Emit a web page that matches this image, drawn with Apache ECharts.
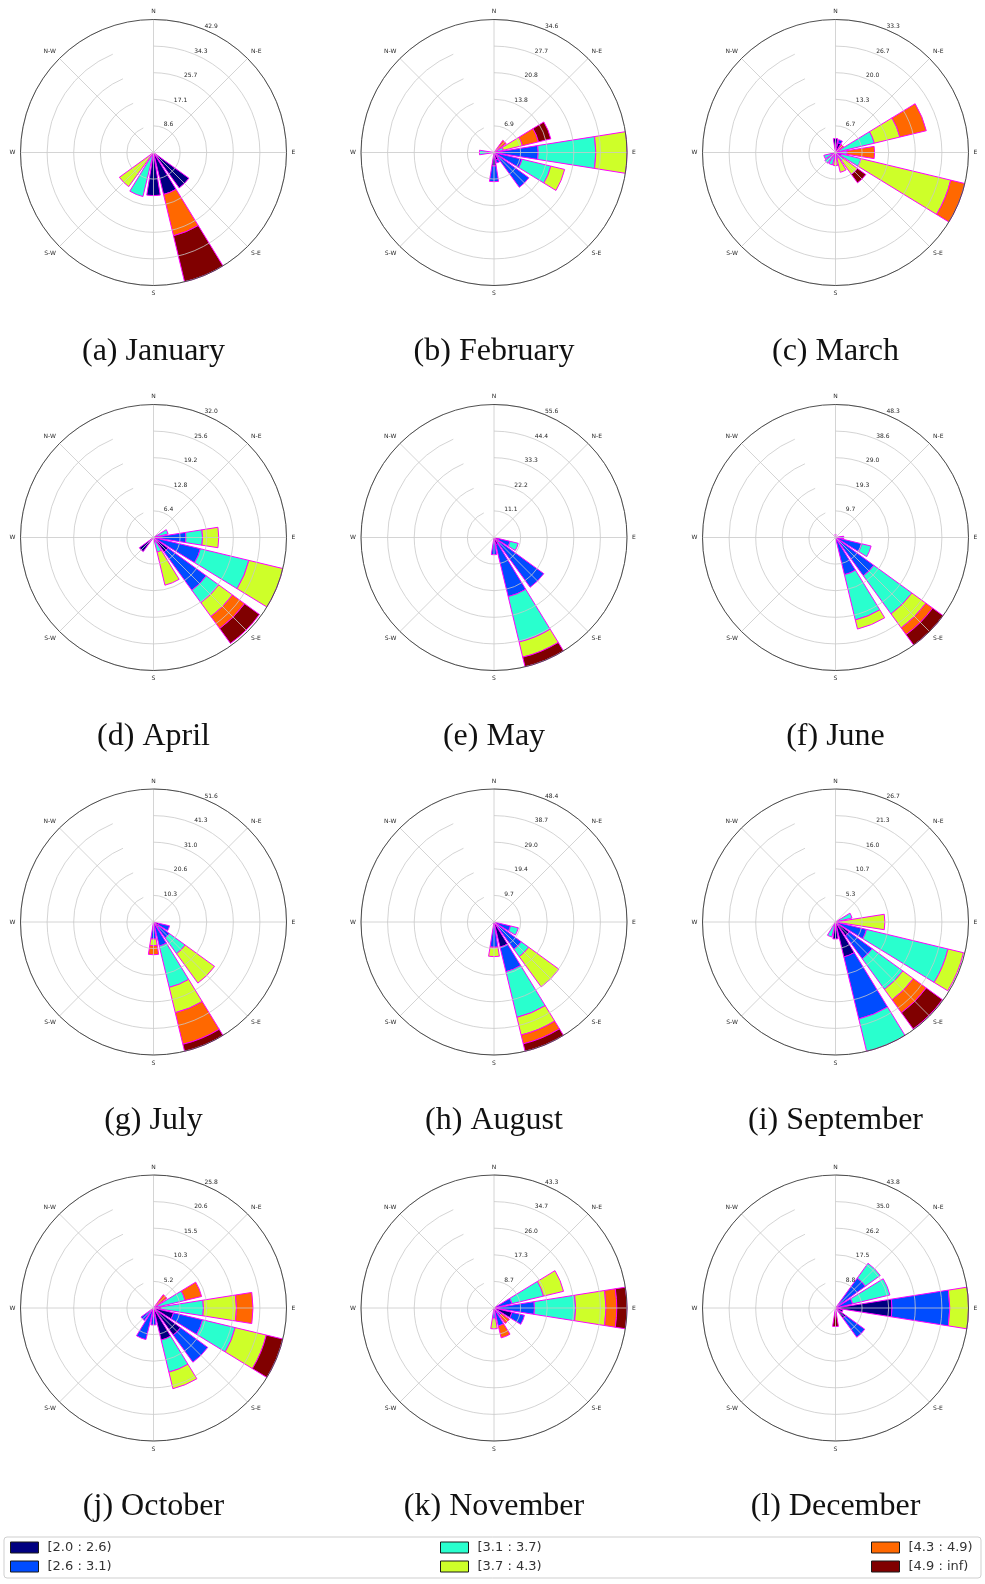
<!DOCTYPE html>
<html>
<head>
<meta charset="utf-8">
<script src="https://cdn.jsdelivr.net/npm/echarts@6/dist/echarts.min.js"></script>
<style>
  html, body { margin: 0; padding: 0; background: #ffffff; }
  #chart { width: 985px; height: 1584px; }
</style>
</head>
<body>
<div id="chart"></div>
<script>
// Sixteen compass sectors, clockwise from north
const directions = ['N', 'NNE', 'N-E', 'ENE', 'E', 'ESE', 'S-E', 'SSE',
                    'S', 'SSW', 'S-W', 'WSW', 'W', 'WNW', 'N-W', 'NNW'];

// Wind speed classes
const speedBins = ['[2.0 : 2.6)', '[2.6 : 3.1)', '[3.1 : 3.7)',
                   '[3.7 : 4.3)', '[4.3 : 4.9)', '[4.9 : inf)'];

const captions = ['(a) January', '(b) February', '(c) March', '(d) April',
                  '(e) May', '(f) June', '(g) July', '(h) August',
                  '(i) September', '(j) October', '(k) November', '(l) December'];

// Frequency (%) per direction (rows, N clockwise) and speed class (columns)
const january = [
  [0, 0, 0, 0, 0, 0], [0, 0, 0, 0, 0, 0], [0, 0, 0, 0, 0, 0], [0, 0, 0, 0, 0, 0],
  [0, 0, 0, 0, 0, 0], [0, 0, 0, 0, 0, 0], [14.1, 0, 0, 0, 0, 0], [13.9, 0, 0, 0, 13.7, 15.26],
  [13.9, 0, 0, 0, 0, 0], [0, 0, 14.6, 0, 0, 0], [0, 0, 0, 13.6, 0, 0], [0, 0, 0, 0, 0, 0],
  [0, 0, 0, 0, 0, 0], [0, 0, 0, 0, 0, 0], [0, 0, 0, 0, 0, 0], [0, 0, 0, 0, 0, 0]
];
const february = [
  [0, 0, 0, 0, 0, 0], [0, 0, 0, 0, 0, 0], [0, 0, 0, 0, 3.9, 0], [0, 0, 2.5, 5.1, 4.3, 3.3],
  [0, 11.5, 15.0, 8.1, 0, 0], [0, 7.5, 7.7, 3.7, 0, 0], [1.5, 9.7, 0, 0, 0, 0], [2.0, 0.8, 0, 0, 0, 0],
  [3.5, 4.1, 0, 0, 0, 0], [0, 0, 0, 0, 0, 0], [0, 0, 0, 0, 0, 0], [0, 0, 0, 0, 0, 0],
  [0, 0, 3.8, 0, 0, 0], [0, 0, 0, 0, 0, 0], [0, 0, 0, 0, 0, 0], [0, 0, 0, 0, 0, 0]
];
const march = [
  [3.5, 0, 0, 0, 0, 0], [2.5, 0.8, 0, 0, 0, 0], [0, 0, 0, 0, 2.5, 0], [0, 0.5, 9.5, 6.6, 6.8, 0],
  [0, 1.2, 1.7, 0, 6.9, 0], [0, 1.5, 5.1, 23.1, 3.63, 0], [0, 1.0, 1.5, 4.3, 0, 2.6], [0, 0, 1.5, 3.6, 0, 0],
  [0, 0, 1.5, 1.8, 0, 0], [0, 0, 3.2, 0, 0, 0], [0, 0.5, 2.8, 0, 0, 0], [0, 0, 3.0, 0, 0, 0],
  [0, 0, 0, 0, 0, 0], [0, 0, 0, 0, 0, 0], [0, 0, 0, 0, 0, 0], [0, 0, 0, 0, 0, 0]
];
const april = [
  [0, 0, 0, 0, 0, 0], [0, 0, 0, 0, 0, 0], [0, 0, 0, 0, 0, 0], [0, 0, 3.6, 0, 0, 0],
  [0, 7.8, 4.0, 3.9, 0, 0], [0, 11.6, 12.0, 8.4, 0, 0], [4.3, 11.4, 3.7, 4.1, 3.6, 4.4], [0, 0, 3.6, 8.2, 0, 0],
  [0, 0, 0, 0, 0, 0], [0, 0, 0, 0, 0, 0], [4.2, 0, 0, 0, 0, 0], [0, 0, 0, 0, 0, 0],
  [0, 0, 0, 0, 0, 0], [0, 0, 0, 0, 0, 0], [0, 0, 0, 0, 0, 0], [0, 0, 0, 0, 0, 0]
];
const may = [
  [0, 0, 0, 0, 0, 0], [0, 0, 0, 0, 0, 0], [0, 0, 0, 0, 0, 0], [0, 0, 0, 0, 0, 0],
  [0, 0, 0, 0, 0, 0], [2.0, 4.9, 3.5, 0, 0, 0], [2.5, 23.2, 0, 0, 0, 0], [3.0, 22.4, 19.5, 6.5, 0, 4.15],
  [1.5, 5.7, 0, 0, 0, 0], [0, 0, 0, 0, 0, 0], [0, 0, 0, 0, 0, 0], [0, 0, 0, 0, 0, 0],
  [0, 0, 0, 0, 0, 0], [0, 0, 0, 0, 0, 0], [0, 0, 0, 0, 0, 0], [0, 0, 0, 0, 0, 0]
];
const june = [
  [0, 1.2, 0, 0, 0, 0], [0, 0, 0, 0, 0, 0], [0, 0, 0, 0, 0, 0], [0, 0, 0, 0, 0, 0],
  [1.5, 1.5, 0, 0, 0, 0], [0, 9.8, 3.5, 0, 0, 0], [0, 17.2, 17.1, 6.3, 3.0, 4.7], [0, 13.9, 16.9, 3.4, 0, 0],
  [0, 0, 0, 0, 0, 0], [0, 0, 0, 0, 0, 0], [0, 0, 0, 0, 0, 0], [0, 0, 0, 0, 0, 0],
  [0, 0, 0, 0, 0, 0], [0, 0, 0, 0, 0, 0], [0, 0, 0, 0, 0, 0], [0, 0, 0, 0, 0, 0]
];
const july = [
  [0, 0, 0, 0, 0, 0], [0, 0, 0, 0, 0, 0], [0, 0, 0, 0, 0, 0], [0, 0, 0, 0, 0, 0],
  [0, 0, 0, 0, 0, 0], [2.0, 4.4, 0, 0, 0, 0], [2.5, 5.1, 7.6, 14.1, 0, 0], [0, 9.6, 16.5, 10.1, 12.6, 2.8],
  [0, 6.6, 0, 2.6, 3.5, 0], [0, 0, 0, 0, 0, 0], [0, 0, 0, 0, 0, 0], [0, 0, 0, 0, 0, 0],
  [0, 0, 0, 0, 0, 0], [0, 0, 0, 0, 0, 0], [0, 0, 0, 0, 0, 0], [0, 0, 0, 0, 0, 0]
];
const august = [
  [0, 0, 0, 0, 0, 0], [0, 0, 0, 0, 0, 0], [0, 0, 0, 0, 0, 0], [0, 0, 0, 0, 0, 0],
  [0, 0, 0, 0, 0, 0], [0, 6.2, 2.9, 0, 0, 0], [2.0, 10.3, 3.3, 13.6, 0, 0], [9.4, 9.2, 17.1, 6.6, 3.3, 2.8],
  [0, 9.2, 0, 3.4, 0, 0], [0, 0, 0, 0, 0, 0], [0, 0, 0, 0, 0, 0], [0, 0, 0, 0, 0, 0],
  [0, 0, 0, 0, 0, 0], [0, 0, 0, 0, 0, 0], [0, 0, 0, 0, 0, 0], [0, 0, 0, 0, 0, 0]
];
const september = [
  [0, 0, 0, 0, 0, 0], [0, 0, 0, 0, 0, 0], [0, 0, 0, 0, 0, 0], [0, 0, 3.4, 0, 0, 0],
  [0, 0, 0, 9.9, 0, 0], [0, 6.4, 16.8, 3.2, 0, 0], [3.4, 5.7, 7.6, 2.6, 3.2, 4.0], [7.2, 12.8, 6.67, 0, 0, 0],
  [3.4, 0, 0, 0, 0, 0], [0, 0, 3.1, 0, 0, 0], [0, 0, 0, 0, 0, 0], [0, 0, 0, 0, 0, 0],
  [0, 0, 0, 0, 0, 0], [0, 0, 0, 0, 0, 0], [0, 0, 0, 0, 0, 0], [0, 0, 0, 0, 0, 0]
];
const october = [
  [0, 0, 0, 0, 0, 0], [0, 0, 0, 0, 0, 0], [0, 0, 0, 0, 3.2, 0], [0, 0.8, 5.5, 0, 3.3, 0],
  [1.5, 0, 8.2, 6.4, 3.2, 0], [4.0, 5.8, 6.5, 6.2, 0, 3.3], [6.5, 6.5, 0, 0, 0, 0], [6.4, 0, 6.4, 3.3, 0, 0],
  [0, 3.3, 0, 0, 0, 0], [0, 6.3, 0, 0, 0, 0], [0, 3.0, 0, 0, 0, 0], [0, 0, 0, 0, 0, 0],
  [0, 0, 0, 0, 0, 0], [0, 0, 0, 0, 0, 0], [0, 0, 0, 0, 0, 0], [0, 0, 0, 0, 0, 0]
];
const november = [
  [0, 0, 0, 0, 0, 0], [0, 0, 0, 0, 0, 0], [0, 0, 0, 0, 0, 0], [0, 6.0, 10.6, 6.7, 0, 0],
  [0, 13.2, 13.4, 9.9, 3.5, 3.33], [6.0, 4.2, 0, 0, 0, 0], [1.5, 1.5, 0, 0, 3.2, 0], [0, 6.0, 0, 0, 4.0, 0],
  [0, 3.5, 0, 3.3, 0, 0], [0, 0, 0, 0, 0, 0], [0, 0, 0, 0, 0, 0], [0, 0, 0, 0, 0, 0],
  [0, 0, 0, 0, 0, 0], [0, 0, 0, 0, 0, 0], [0, 0, 0, 0, 0, 0], [0, 0, 0, 0, 0, 0]
];
const december = [
  [0, 0, 0, 0, 0, 0], [0, 0, 0, 0, 0, 0], [0, 12.2, 6.0, 0, 0, 0], [0, 5.8, 12.6, 0, 0, 0],
  [18.6, 19.0, 0, 6.15, 0, 0], [2.5, 0, 0, 0, 0, 0], [4.2, 7.7, 0, 0, 0, 0], [0, 0, 0, 0, 0, 0],
  [1.5, 0, 0, 0, 0, 4.6], [0, 0, 0, 0, 0, 0], [0, 0, 0, 0, 0, 0], [0, 0, 0, 0, 0, 0],
  [0, 0, 0, 0, 0, 0], [0, 0, 0, 0, 0, 0], [0, 0, 0, 0, 0, 0], [0, 0, 0, 0, 0, 0]
];

// Radial ring labels of each rose (five rings, outermost = largest total)
const radialTicks = [
  ['8.6', '17.1', '25.7', '34.3', '42.9'],
  ['6.9', '13.8', '20.8', '27.7', '34.6'],
  ['6.7', '13.3', '20.0', '26.7', '33.3'],
  ['6.4', '12.8', '19.2', '25.6', '32.0'],
  ['11.1', '22.2', '33.3', '44.4', '55.6'],
  ['9.7', '19.3', '29.0', '38.6', '48.3'],
  ['10.3', '20.6', '31.0', '41.3', '51.6'],
  ['9.7', '19.4', '29.0', '38.7', '48.4'],
  ['5.3', '10.7', '16.0', '21.3', '26.7'],
  ['5.2', '10.3', '15.5', '20.6', '25.8'],
  ['8.7', '17.3', '26.0', '34.7', '43.3'],
  ['8.8', '17.5', '26.2', '35.0', '43.8']
];

const months = [january, february, march, april, may, june,
                july, august, september, october, november, december];

// jet colormap, six classes
const binColors = ['#000080', '#004cff', '#29ffce', '#ceff29', '#ff6800', '#800000'];

// Page layout: 3 x 4 grid of roses
const colX = [153.5, 494, 835.5];
const rowY = [152.5, 537.5, 922, 1308];
const roseRadius = 133;
const captionOffset = 199;

const gridColor = '#c9c9c9';
const textColor = '#262626';

const polar = [], angleAxis = [], radiusAxis = [], series = [], graphic = [];

months.forEach((rows, m) => {
  const cx = colX[m % 3];
  const cy = rowY[Math.floor(m / 3)];
  const rMax = Math.max(...rows.map(r => r.reduce((a, b) => a + b, 0)));
  const step = rMax / 5;
  const ticks = radialTicks[m];

  // rose with bars, rings and spokes
  polar.push({ center: [cx, cy], radius: roseRadius });
  // companion frame: full outer circle and ring value labels at 22.5 deg
  polar.push({ center: [cx, cy], radius: roseRadius });

  angleAxis.push({
    polarIndex: 2 * m,
    type: 'category',
    data: directions,
    boundaryGap: false,
    startAngle: 90,
    clockwise: true,
    z: 5,
    axisLine: { show: false },
    axisTick: { show: false, interval: 1 },
    axisLabel: { interval: 1, margin: 5, fontSize: 6, fontFamily: 'DejaVu Sans', color: textColor },
    splitLine: { show: true, interval: 1, lineStyle: { color: gridColor, width: 0.8 } },
    splitArea: { show: false }
  });
  angleAxis.push({
    polarIndex: 2 * m + 1,
    type: 'value',
    min: 0,
    max: 360,
    startAngle: 67.5,
    z: 5,
    axisLine: { show: true, lineStyle: { color: '#3c3c3c', width: 0.9 } },
    axisTick: { show: false },
    axisLabel: { show: false },
    splitLine: { show: false }
  });

  radiusAxis.push({
    polarIndex: 2 * m,
    type: 'value',
    min: 0,
    max: rMax,
    interval: step,
    z: 5,
    axisLine: { show: false },
    axisTick: { show: false },
    axisLabel: { show: false },
    splitLine: { show: true, lineStyle: { color: gridColor, width: 0.8 } }
  });
  radiusAxis.push({
    polarIndex: 2 * m + 1,
    type: 'value',
    min: 0,
    max: rMax,
    interval: step,
    z: 5,
    axisLine: { show: false },
    axisTick: { show: false },
    splitLine: { show: false },
    axisLabel: {
      margin: 0,
      align: 'left',
      verticalAlign: 'bottom',
      fontSize: 6,
      fontFamily: 'DejaVu Sans',
      color: textColor,
      formatter: (v) => {
        const k = Math.round(v / step);
        return k > 0 ? ticks[k - 1] : '';
      }
    }
  });

  speedBins.forEach((bin, b) => {
    series.push({
      type: 'bar',
      name: bin,
      coordinateSystem: 'polar',
      polarIndex: 2 * m,
      stack: 'rose' + m,
      barWidth: '80%',
      silent: true,
      data: rows.map(r => (r[b] > 0 ? r[b] : '-')),
      itemStyle: { color: binColors[b], borderColor: '#ff00ff', borderWidth: 1 }
    });
  });

  graphic.push({
    type: 'text',
    x: cx,
    y: cy + captionOffset,
    style: {
      text: captions[m],
      fontSize: 32,
      fontFamily: 'Liberation Serif',
      fill: '#111111',
      align: 'center',
      verticalAlign: 'middle'
    }
  });
});

// legend frame
graphic.push({
  type: 'rect',
  z: 0,
  shape: { x: 4, y: 1537, width: 977, height: 41, r: 3 },
  style: { fill: '#ffffff', stroke: '#cfcfcf', lineWidth: 1 }
});

const legendColumns = [[0, 1], [2, 3], [4, 5]];
const legendLeft = [10, 440, 871];
const legend = legendColumns.map((idx, c) => ({
  data: idx.map(i => speedBins[i]),
  orient: 'vertical',
  left: legendLeft[c],
  top: 1541,
  padding: 0,
  itemGap: 6,
  itemWidth: 28,
  itemHeight: 11,
  icon: 'rect',
  selectedMode: false,
  itemStyle: { borderColor: '#1a1a1a', borderWidth: 1 },
  textStyle: { fontSize: 13, lineHeight: 13, fontFamily: 'DejaVu Sans', color: '#333333', padding: [0, 0, 0, 4] },
  z: 6
}));

const chart = echarts.init(document.getElementById('chart'), null, { renderer: 'canvas' });
chart.setOption({
  backgroundColor: '#ffffff',
  animation: false,
  polar,
  angleAxis,
  radiusAxis,
  legend,
  graphic,
  series
});
</script>
</body>
</html>
